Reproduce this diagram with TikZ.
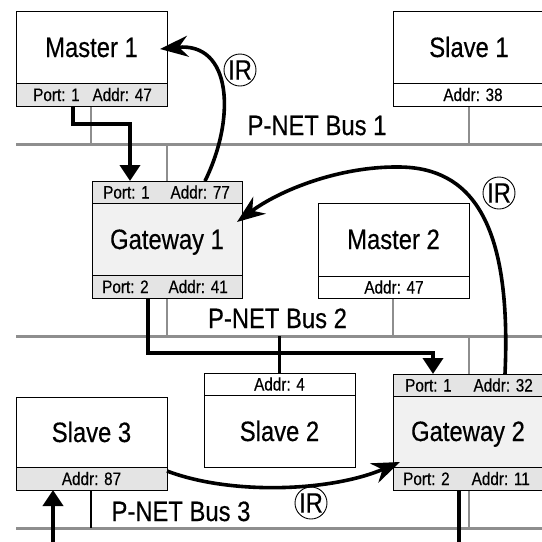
\documentclass[tikz,border=0pt]{standalone}
\usepackage{fontspec}
\setmainfont{Liberation Sans}[FakeStretch=0.85,FakeBold=0.4]
\usetikzlibrary{arrows.meta,calc}
\definecolor{busgray}{HTML}{8E8E8E}
\definecolor{hdr}{HTML}{E4E4E4}
\definecolor{bodyfill}{HTML}{F1F1F1}
\begin{document}
\begin{tikzpicture}[x=1pt,y=-1pt,
  box/.style={draw=black, line width=0.8pt, inner sep=0pt, outer sep=0pt, anchor=north west, minimum width=151pt},
  bus/.style={draw=busgray, line width=3pt},
  drop/.style={draw=busgray, line width=2.6pt},
  bdrop/.style={draw=black, line width=2.8pt},
  flow/.style={line width=3.8pt, -{Triangle[length=16pt,width=20pt]}},
  ir/.style={line width=3.6pt, -{Stealth[length=28pt,width=21pt,inset=9pt]}},
  title/.style={font=\fontsize{28}{28}\selectfont, anchor=base, inner sep=0pt},
  small/.style={font=\fontsize{18}{18}\selectfont, inner sep=0pt},
  buslabel/.style={font=\fontsize{28}{28}\selectfont, anchor=base, inner sep=0pt},
  ircirc/.style={circle, draw, line width=0.9pt, minimum size=32pt, inner sep=0pt, font=\fontsize{28}{28}\selectfont}
]
\useasboundingbox (0,0) rectangle (542,542);
\clip (0,0) rectangle (542,542);
\fill[white] (0,0) rectangle (542,542);

% buses
\coordinate (b1w) at (16,144); \coordinate (b1e) at (545,144);
\coordinate (b2w) at (16,336); \coordinate (b2e) at (545,336);
\coordinate (b3w) at (16,528); \coordinate (b3e) at (545,528);
\draw[bus] (b1w) -- (b1e);
\draw[bus] (b2w) -- (b2e);
\draw[bus] (b3w) -- (b3e);

% gray drops
\draw[drop] (91,106) -- (91,144);
\draw[drop] (469,106) -- (469,144);
\draw[drop] (167,144) -- (167,181);
\draw[drop] (167,298) -- (167,336);
\draw[drop] (393,298) -- (393,336);
\draw[drop] (469,336) -- (469,528);

% black drops
\draw[bdrop] (279.5,336) -- (279.5,373);
\draw[bdrop] (91,490) -- (91,528);

% Master 1
\node[box, fill=white, minimum height=72pt] (m1) at (16,11) {};
\node[box, fill=hdr, minimum height=23pt] (m1f) at (16,83) {};
\node[title] (m1t) at (91.5,57) {Master 1};
\node[small, anchor=base west] (m1p) at (33,101) {Port: 1};
\node[small, anchor=base east] (m1a) at (152,101) {Addr: 47};

% Slave 1
\node[box, fill=white, minimum height=72pt, minimum width=160pt] (s1) at (393,11) {};
\node[box, fill=white, minimum height=23pt, minimum width=160pt] (s1f) at (393,83) {};
\node[title] (s1t) at (469,57) {Slave 1};
\node[small, anchor=base] (s1a) at (473,101) {Addr: 38};

% Gateway 1
\node[box, fill=hdr, minimum height=22pt, minimum width=150pt] (g1h) at (92,181) {};
\node[box, fill=bodyfill, minimum height=72pt, minimum width=150pt] (g1) at (92,203) {};
\node[box, fill=hdr, minimum height=23pt, minimum width=150pt] (g1f) at (92,275) {};
\node[title] (g1t) at (167,249) {Gateway 1};
\node[small, anchor=base west] (g1hp) at (103,198.5) {Port: 1};
\node[small, anchor=base east] (g1ha) at (230,198.5) {Addr: 77};
\node[small, anchor=base west] (g1fp) at (102,293) {Port: 2};
\node[small, anchor=base east] (g1fa) at (228,293) {Addr: 41};

% Master 2
\node[box, fill=white, minimum height=73pt] (m2) at (318,203) {};
\node[box, fill=white, minimum height=22pt] (m2f) at (318,276) {};
\node[title] (m2t) at (393.5,249) {Master 2};
\node[small, anchor=base] (m2a) at (394,293.5) {Addr: 47};

% Slave 2
\node[box, fill=white, minimum height=22pt] (s2h) at (204,373) {};
\node[box, fill=white, minimum height=72pt] (s2) at (204,395) {};
\node[small, anchor=base] (s2a) at (279.5,390.5) {Addr: 4};
\node[title] (s2t) at (279.5,441) {Slave 2};

% Gateway 2
\node[box, fill=hdr, minimum height=22pt, minimum width=160pt] (g2h) at (393,374) {};
\node[box, fill=bodyfill, minimum height=71pt, minimum width=160pt] (g2) at (393,396) {};
\node[box, fill=hdr, minimum height=23pt, minimum width=160pt] (g2f) at (393,467) {};
\node[title] (g2t) at (468,441) {Gateway 2};
\node[small, anchor=base west] (g2hp) at (405,391.5) {Port: 1};
\node[small, anchor=base east] (g2ha) at (533,391.5) {Addr: 32};
\node[small, anchor=base west] (g2fp) at (403,485) {Port: 2};
\node[small, anchor=base east] (g2fa) at (530,485) {Addr: 11};

% Slave 3
\node[box, fill=white, minimum height=70pt] (s3) at (16,397) {};
\node[box, fill=hdr, minimum height=23pt] (s3f) at (16,467) {};
\node[title] (s3t) at (91.5,442) {Slave 3};
\node[small, anchor=base] (s3a) at (91.5,485) {Addr: 87};

% bus labels
\node[buslabel] (bl1) at (317,135) {P-NET Bus 1};
\node[buslabel] (bl2) at (277.5,328) {P-NET Bus 2};
\node[buslabel] (bl3) at (181,521) {P-NET Bus 3};

% IR circles
\node[ircirc] (ir1) at (240,70) {IR};
\node[ircirc] (ir2) at (499,193) {IR};
\node[ircirc] (ir3) at (311,503) {IR};

% flows
\draw[flow] ([xshift=57pt]m1f.south west) -- ++(0,18) -| ([xshift=38pt]g1h.north west);
\draw[flow] ([xshift=56pt]g1f.south west) -- ++(0,55) -| ([xshift=40pt]g2h.north west);
\coordinate (s3in) at (53,542);
\draw[flow] (s3in) -- ([xshift=37pt]s3f.south west);
\coordinate (g2out) at (459,542);
\draw[line width=3.8pt] ([xshift=66pt]g2f.south west) -- (g2out);

% IR arrows
\coordinate (ir1end) at (160,49);
\draw[ir] ([xshift=113pt]g1h.north west) .. controls (236,118) and (232,42) .. (ir1end);
\coordinate (ir2mid) at (400,167);
\coordinate (ir2end) at (237,222);
\draw[ir] ([xshift=112pt]g2h.north west) .. controls (512,220) and (470,168) .. (ir2mid)
   .. controls (340,166) and (280,190) .. (ir2end);
\coordinate (ir3end) at (400,462);
\draw[ir] ([yshift=-4pt]s3.south east) .. controls (230,495) and (330,492) .. (ir3end);
\end{tikzpicture}
\end{document}
